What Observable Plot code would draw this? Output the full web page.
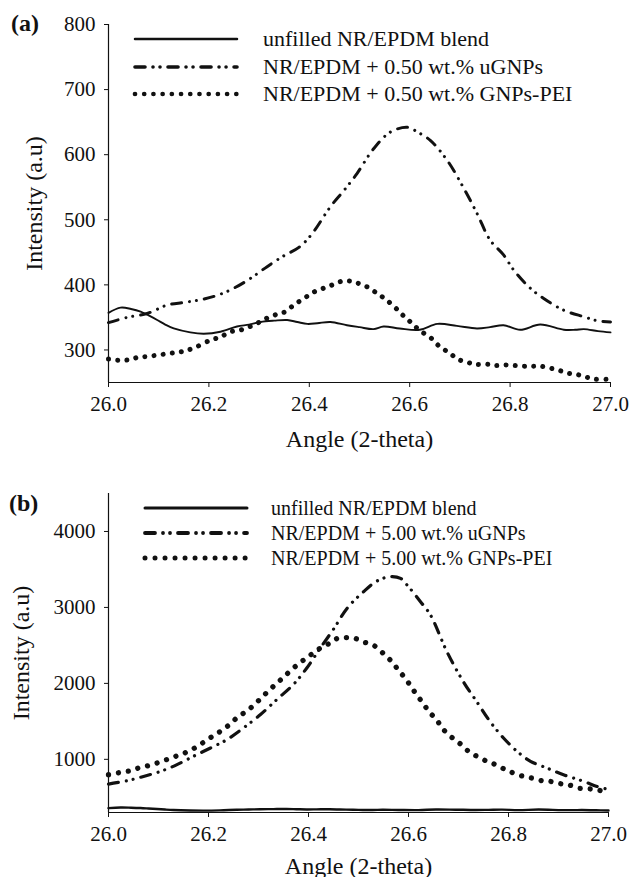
<!DOCTYPE html>
<html>
<head>
<meta charset="utf-8">
<script src="https://cdn.jsdelivr.net/npm/d3@7"></script>
<script src="https://cdn.jsdelivr.net/npm/@observablehq/plot@0.6"></script>
<style>
  body { margin: 0; background: #fff; font-family: "Liberation Serif", "Times New Roman", serif; color: #111; }
  #wrap { position: relative; width: 632px; height: 877px; overflow: hidden; }
  #wrap svg, #wrap svg text, #wrap svg g { font-family: "Liberation Serif", "Times New Roman", serif !important; }
  .panel { position: absolute; left: 0; }
  .tag { position: absolute; font-weight: bold; font-size: 24px; line-height: 24px; }
  .lrow { position: absolute; display: flex; align-items: center; white-space: nowrap; }
  .lrow svg { display: block; }
</style>
</head>
<body>
<div id="wrap"></div>
<script>
// ---------- data ----------
const xTicks = [26.0, 26.2, 26.4, 26.6, 26.8, 27.0];
const yTicksA = [300, 400, 500, 600, 700, 800];
const yTicksB = [1000, 2000, 3000, 4000];
const xDomain = [26, 27];
const yDomainA = [250, 800];
const yDomainB = [300, 4500];
const xLabel = "Angle (2-theta)";
const yLabel = "Intensity (a.u)";
const namesA = ["unfilled NR/EPDM blend", "NR/EPDM + 0.50 wt.% uGNPs", "NR/EPDM + 0.50 wt.% GNPs-PEI"];
const namesB = ["unfilled NR/EPDM blend", "NR/EPDM + 5.00 wt.% uGNPs", "NR/EPDM + 5.00 wt.% GNPs-PEI"];

// unfilled blend (same sample in both panels)
const blendAngle = [26.000, 26.024, 26.045, 26.064, 26.080, 26.097, 26.113, 26.130, 26.163, 26.190, 26.223, 26.256, 26.280, 26.303, 26.330, 26.356, 26.376, 26.396, 26.416, 26.442, 26.475, 26.500, 26.528, 26.548, 26.580, 26.620, 26.655, 26.694, 26.734, 26.760, 26.787, 26.820, 26.860, 26.907, 26.930, 26.947, 26.975, 27.000];
const blendInt   = [357, 365, 363, 359, 353, 346, 339, 333, 327, 325, 328, 336, 339, 343, 345, 346, 343, 340, 341, 343, 338, 335, 332, 336, 333, 331, 340, 337, 333, 335, 338, 331, 339, 331, 331, 332, 329, 327];

// panel (a) 0.50 wt.% uGNPs
const uA_angle = [26.000, 26.037, 26.077, 26.117, 26.150, 26.183, 26.217, 26.250, 26.283, 26.316, 26.350, 26.380, 26.405, 26.442, 26.469, 26.495, 26.528, 26.562, 26.596, 26.615, 26.641, 26.675, 26.708, 26.734, 26.760, 26.787, 26.807, 26.840, 26.867, 26.907, 26.947, 26.973, 27.000];
const uA_int   = [342, 350, 356, 369, 373, 377, 384, 395, 410, 428, 445, 458, 478, 520, 545, 571, 609, 635, 642, 635, 622, 591, 548, 510, 469, 446, 423, 395, 379, 361, 351, 345, 343];

// panel (a) 0.50 wt.% GNPs-PEI
const pA_angle = [26.000, 26.024, 26.042, 26.060, 26.078, 26.097, 26.116, 26.134, 26.150, 26.170, 26.203, 26.223, 26.243, 26.265, 26.296, 26.316, 26.336, 26.353, 26.369, 26.389, 26.409, 26.429, 26.446, 26.462, 26.479, 26.495, 26.515, 26.535, 26.550, 26.570, 26.587, 26.603, 26.620, 26.643, 26.660, 26.680, 26.695, 26.715, 26.730, 26.755, 26.770, 26.790, 26.810, 26.830, 26.845, 26.860, 26.880, 26.900, 26.917, 26.935, 26.953, 26.970, 26.992];
const pA_int   = [286, 284, 285, 289, 290, 292, 294, 296, 298, 303, 315, 320, 328, 331, 341, 349, 355, 359, 369, 379, 389, 395, 400, 405, 406, 403, 397, 387, 379, 366, 353, 342, 330, 318, 305, 295, 286, 281, 278, 278, 276, 277, 276, 275, 275, 275, 272, 268, 264, 262, 258, 255, 255];

// panel (b) 5.00 wt.% uGNPs
const uB_angle = [26.000, 26.037, 26.070, 26.104, 26.137, 26.170, 26.204, 26.237, 26.270, 26.304, 26.337, 26.370, 26.397, 26.424, 26.450, 26.477, 26.510, 26.537, 26.564, 26.584, 26.597, 26.624, 26.644, 26.677, 26.710, 26.737, 26.764, 26.790, 26.817, 26.844, 26.877, 26.910, 26.950, 26.977, 27.000];
const uB_int   = [674, 718, 775, 841, 930, 1040, 1149, 1260, 1414, 1590, 1789, 1987, 2206, 2470, 2713, 2987, 3207, 3348, 3406, 3383, 3296, 3075, 2900, 2415, 2019, 1754, 1490, 1281, 1106, 974, 885, 797, 710, 643, 604];

// panel (b) 5.00 wt.% GNPs-PEI
const pB_angle = [26.000, 26.024, 26.044, 26.060, 26.079, 26.097, 26.116, 26.134, 26.152, 26.170, 26.187, 26.205, 26.224, 26.242, 26.259, 26.279, 26.297, 26.314, 26.332, 26.349, 26.367, 26.386, 26.404, 26.423, 26.441, 26.457, 26.476, 26.494, 26.510, 26.530, 26.550, 26.567, 26.580, 26.594, 26.617, 26.630, 26.640, 26.656, 26.667, 26.684, 26.703, 26.720, 26.737, 26.757, 26.774, 26.794, 26.810, 26.830, 26.847, 26.867, 26.884, 26.904, 26.920, 26.940, 26.957, 26.977, 26.990];
const pB_int   = [798, 828, 850, 885, 916, 951, 996, 1040, 1083, 1141, 1211, 1290, 1370, 1458, 1559, 1647, 1753, 1863, 1974, 2075, 2185, 2286, 2374, 2462, 2524, 2590, 2603, 2590, 2546, 2502, 2392, 2283, 2173, 2063, 1843, 1733, 1634, 1524, 1414, 1304, 1207, 1106, 1040, 974, 930, 864, 819, 775, 753, 718, 709, 679, 665, 621, 613, 600, 577];

// ---------- styles ----------
const ink = "#111";
const serif = "Liberation Serif";
const styleA = [
  {strokeWidth: 1.9, dash: null},
  {strokeWidth: 3, dash: "10,8,0.01,7,0.01,8"},
  {strokeWidth: 5, dash: "0.01,9.2"}
];
const styleB = [
  {strokeWidth: 2.4, dash: null},
  {strokeWidth: 3.2, dash: "10,8,0.01,7,0.01,8"},
  {strokeWidth: 5.3, dash: "0.01,10"}
];

const rows = (xs, ys) => xs.map((x, i) => ({x, y: ys[i]}));

function lineMark(data, st) {
  return Plot.line(data, {
    x: "x", y: "y", stroke: ink, strokeWidth: st.strokeWidth,
    strokeDasharray: st.dash ?? undefined,
    strokeLinecap: "round", strokeLinejoin: "round", curve: "catmull-rom"
  });
}

function panel({height, marginTop, marginBottom, marginRight, yDomain, yTicks, series, styles, yLabelOffset, xLabelOffset}) {
  return Plot.plot({
    width: 632, height, marginTop, marginBottom, marginLeft: 108, marginRight,
    style: {fontFamily: serif, background: "white", color: ink},
    x: {domain: xDomain},
    y: {domain: yDomain},
    marks: [
      ...series.map((s, i) => lineMark(rows(s[0], s[1]), styles[i])),
      Plot.ruleX([xDomain[0]], {stroke: ink, strokeWidth: 1.2}),
      Plot.ruleY([yDomain[0]], {stroke: ink, strokeWidth: 1.2}),
      Plot.axisX(xTicks, {tickSize: 5, tickPadding: 9, fontSize: 21, fontFamily: serif, tickFormat: d3.format(".1f"), label: null, stroke: ink, fill: ink}),
      Plot.axisX([], {fontSize: 24, fontFamily: serif, label: xLabel, labelAnchor: "center", labelArrow: "none", labelOffset: xLabelOffset, fill: ink}),
      Plot.axisY(yTicks, {tickSize: 4, tickPadding: 9, fontSize: 21, fontFamily: serif, tickFormat: d => String(d), label: null, stroke: ink, fill: ink}),
      Plot.axisY([], {fontSize: 24, fontFamily: serif, label: yLabel, labelAnchor: "center", labelArrow: "none", labelOffset: yLabelOffset, fill: ink})
    ]
  });
}

const wrap = d3.select("#wrap");

const plotA = panel({
  height: 452, marginTop: 24, marginBottom: 70, marginRight: 22,
  yDomain: yDomainA, yTicks: yTicksA, styles: styleA, yLabelOffset: 84, xLabelOffset: 64,
  series: [[blendAngle, blendInt], [uA_angle, uA_int], [pA_angle, pA_int]]
});
const plotB = panel({
  height: 425, marginTop: 41, marginBottom: 65, marginRight: 24,
  yDomain: yDomainB, yTicks: yTicksB, styles: styleB, yLabelOffset: 97, xLabelOffset: 61,
  series: [[blendAngle, blendInt], [uB_angle, uB_int], [pB_angle, pB_int]]
});

wrap.append("div").attr("class", "panel").style("top", "0px").node().appendChild(plotA);
wrap.append("div").attr("class", "panel").style("top", "452px").node().appendChild(plotB);

// panel tags
wrap.append("div").attr("class", "tag").style("left", "11px").style("top", "11px").text("(a)");
wrap.append("div").attr("class", "tag").style("left", "9px").style("top", "491px").text("(b)");

// legends
function legend(names, styles, {lineX, lineW, textX, rowY, fontSize}) {
  names.forEach((name, i) => {
    const row = wrap.append("div").attr("class", "lrow")
      .style("left", lineX + "px").style("top", (rowY[i] - 14) + "px").style("height", "28px")
      .style("font-size", fontSize + "px");
    const svg = row.append("svg").attr("width", lineW + 6).attr("height", 28);
    const st = styles[i];
    svg.append("line")
      .attr("x1", 3).attr("x2", lineW + 3).attr("y1", 14).attr("y2", 14)
      .attr("stroke", ink).attr("stroke-width", i === 2 ? st.strokeWidth - 0.3 : st.strokeWidth + 0.6)
      .attr("stroke-linecap", "round")
      .attr("stroke-dasharray", st.dash);
    row.append("span").style("margin-left", (textX - lineX - lineW - 6) + "px").text(name);
  });
}
legend(namesA, styleA, {lineX: 132, lineW: 102, textX: 263, rowY: [39, 67, 94], fontSize: 22});
legend(namesB, styleB, {lineX: 142, lineW: 102, textX: 271, rowY: [508, 533, 558], fontSize: 20});
</script>
</body>
</html>
